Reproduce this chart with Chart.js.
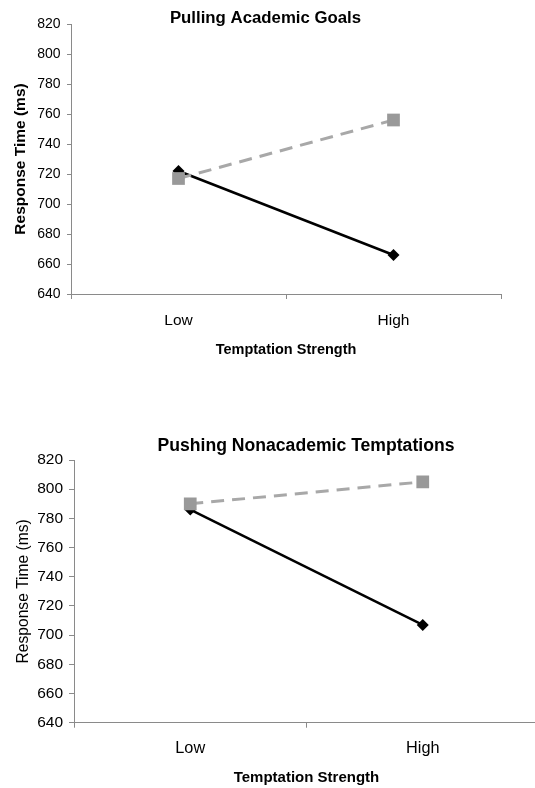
<!DOCTYPE html>
<html>
<head>
<meta charset="utf-8">
<script src="https://cdn.jsdelivr.net/npm/chart.js@4/dist/chart.umd.min.js"></script>
<style>
  html, body { margin: 0; padding: 0; background: #fff; overflow: hidden; }
  #wrap { position: relative; width: 535px; height: 788px; overflow: hidden; }
  canvas { position: absolute; left: 0; }
  #c1 { top: 0; }
  #c2 { top: 390px; }
</style>
</head>
<body>
<div id="wrap">
  <canvas id="c1" width="535" height="390"></canvas>
  <canvas id="c2" width="550" height="398"></canvas>
</div>
<script>
// ---- data ----
const categories = ['Low', 'High'];
const pullingSolid = [722, 666];
const pullingDashed = [717, 756];
const pushingSolid = [786, 707];
const pushingDashed = [790, 805];
const yMin = 640;
const yMax = 820;
const yStep = 20;
const titleTop = 'Pulling Academic Goals';
const titleBottom = 'Pushing Nonacademic Temptations';
const xTitle = 'Temptation Strength';
const yTitle = 'Response Time (ms)';

const FAMILY = '"Liberation Sans", Arial, Helvetica, sans-serif';
const AXIS = '#8a8a8a';

const panelTitle = {
  id: 'panelTitle',
  afterDraw(chart, args, opts) {
    const ctx = chart.ctx;
    ctx.save();
    ctx.font = opts.font;
    ctx.fillStyle = '#000';
    ctx.textAlign = 'center';
    ctx.textBaseline = 'middle';
    ctx.fillText(opts.text, opts.x, opts.y);
    ctx.restore();
  }
};

function makeChart(id, solid, dashed, cfg) {
  return new Chart(document.getElementById(id), {
    type: 'line',
    data: {
      labels: categories,
      datasets: [
        {
          data: dashed,
          borderColor: '#a8a8a8',
          borderWidth: 3,
          borderDash: [13, 8],
          backgroundColor: '#999999',
          pointStyle: 'rect',
          pointRadius: 9,
          pointHoverRadius: 9,
          pointBackgroundColor: '#999999',
          pointBorderColor: '#999999',
          pointBorderWidth: 0,
          tension: 0,
          fill: false
        },
        {
          data: solid,
          borderColor: '#000',
          borderWidth: 2.5,
          backgroundColor: '#000',
          pointStyle: 'rectRot',
          pointRadius: 6,
          pointHoverRadius: 6,
          pointBackgroundColor: '#000',
          pointBorderColor: '#000',
          pointBorderWidth: 0,
          tension: 0,
          fill: false
        }
      ]
    },
    plugins: [panelTitle],
    options: {
      responsive: false,
      animation: false,
      devicePixelRatio: 1,
      events: [],
      layout: { padding: cfg.padding },
      plugins: {
        legend: { display: false },
        title: { display: false },
        tooltip: { enabled: false },
        panelTitle: cfg.title
      },
      scales: {
        x: {
          type: 'category',
          offset: true,
          afterFit: (s) => { s.height = cfg.xHeight; },
          grid: { offset: true, drawOnChartArea: false, drawTicks: true, tickLength: 5, color: AXIS },
          border: { display: true, color: AXIS, width: 1 },
          ticks: { color: '#000', padding: cfg.xTickPad, font: { family: FAMILY, size: cfg.xTickSize } },
          title: {
            display: true, text: xTitle, color: '#000',
            font: { family: FAMILY, size: cfg.xTitleSize, weight: 'bold' },
            padding: { top: 0, bottom: cfg.xTitlePadBottom }
          }
        },
        y: {
          min: yMin, max: yMax,
          afterFit: (s) => { s.width = cfg.yWidth; },
          grid: { drawOnChartArea: false, drawTicks: true, tickLength: cfg.yTickLen, color: AXIS },
          border: { display: true, color: AXIS, width: 1 },
          ticks: { stepSize: yStep, color: '#000', padding: cfg.yTickPad, font: { family: FAMILY, size: cfg.yTickSize } },
          title: {
            display: true, text: yTitle, color: '#000',
            font: { family: FAMILY, size: cfg.yTitleSize, weight: cfg.yTitleWeight },
            padding: { top: cfg.yTitlePadTop, bottom: 0 }
          }
        }
      }
    }
  });
}

makeChart('c1', pullingSolid, pullingDashed, {
  padding: { top: 24, left: 0, right: 34, bottom: 0 },
  xHeight: 96, xTickPad: 12, xTickSize: 15.5,
  xTitleSize: 14.5, xTitlePadBottom: 31.5,
  yWidth: 71, yTickLen: 4, yTickPad: 6.5, yTickSize: 14,
  yTitleSize: 15.5, yTitleWeight: 'bold', yTitlePadTop: 11,
  title: { text: titleTop, x: 265.5, y: 18.5, font: 'bold 16.8px ' + FAMILY }
});

makeChart('c2', pushingSolid, pushingDashed, {
  padding: { top: 70, left: 0, right: 11, bottom: 0 },
  xHeight: 65.3, xTickPad: 11.5, xTickSize: 16.3,
  xTitleSize: 15, xTitlePadBottom: 1,
  yWidth: 74, yTickLen: 5, yTickPad: 6, yTickSize: 15.5,
  yTitleSize: 15.6, yTitleWeight: 'normal', yTitlePadTop: 14.5,
  title: { text: titleBottom, x: 306, y: 55.8, font: 'bold 17.6px ' + FAMILY }
});
</script>
</body>
</html>
